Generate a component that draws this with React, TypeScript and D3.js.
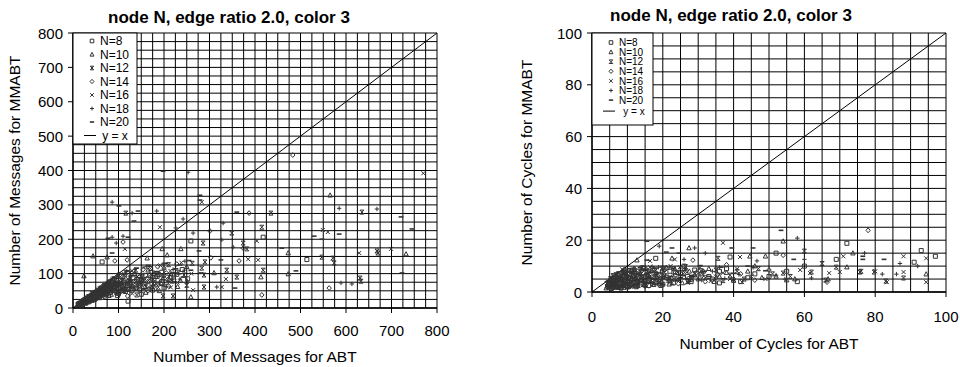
import React from "react";
import * as d3 from "d3";

type Pt = [number, number];

const seriesNames = ["N=8", "N=10", "N=12", "N=14", "N=16", "N=18", "N=20"];
const markerKinds = ["square", "triangle", "star", "diamond", "cross", "plus", "dash"];

// messages: [ABT, MMABT]
const msgN8: Pt[] = [
  [12, 11], [15, 13], [18, 17], [20, 15], [24, 22], [27, 20], [30, 28], [33, 25], [36, 30], [40, 37], [44, 33],
  [48, 41], [52, 38], [55, 50], [60, 45], [64, 55], [68, 48], [72, 60], [78, 52], [85, 70], [90, 62], [96, 80],
  [104, 58], [112, 75], [120, 66], [132, 88], [145, 72], [160, 95], [178, 80], [195, 104], [215, 90], [240, 112],
  [100, 42], [130, 52], [20, 9], [28, 14], [35, 18], [42, 22], [50, 28], [58, 30], [65, 38], [74, 40], [82, 45],
  [92, 50], [98, 36], [108, 62], [115, 48], [125, 70], [138, 58], [150, 80], [165, 66], [185, 92], [205, 75],
  [228, 98], [252, 85], [150, 40], [175, 52], [200, 58],
  [121, 20], [64, 134], [259, 195], [418, 206], [514, 141],
];
const msgN10: Pt[] = [
  [10, 10], [14, 12], [17, 16], [21, 18], [25, 24], [29, 23], [32, 31], [35, 27], [39, 35], [43, 40], [46, 34],
  [50, 47], [54, 42], [58, 56], [62, 49], [66, 60], [70, 52], [75, 68], [80, 58], [86, 78], [92, 66], [98, 90],
  [106, 72], [114, 96], [124, 80], [136, 100], [150, 84], [165, 110], [182, 92], [200, 118], [222, 98], [250, 120],
  [18, 10], [26, 15], [34, 20], [40, 26], [47, 24], [56, 33], [63, 30], [71, 42], [79, 36], [88, 52], [96, 44],
  [103, 60], [111, 50], [122, 64], [134, 56], [146, 76], [158, 62], [174, 84], [194, 72], [214, 90], [236, 80],
  [160, 45], [190, 50], [230, 62],
  [24, 93], [44, 151], [75, 148], [163, 145], [196, 172], [207, 154], [237, 172], [174, 61], [259, 32], [310, 102],
  [413, 90], [473, 160], [473, 99], [565, 328], [732, 157],
];
const msgN12: Pt[] = [
  [11, 10], [13, 13], [16, 14], [19, 19], [23, 19], [26, 25], [28, 22], [31, 29], [34, 33], [38, 31], [42, 42],
  [45, 38], [49, 44], [53, 52], [57, 47], [61, 58], [65, 51], [69, 66], [74, 57], [79, 75], [84, 64], [89, 85],
  [95, 70], [101, 96], [108, 80], [116, 104], [126, 88], [138, 110], [152, 90], [170, 115], [188, 97], [210, 126],
  [232, 104], [262, 130], [85, 40], [160, 62], [22, 12], [30, 17], [37, 21], [44, 27], [52, 31], [59, 35],
  [67, 40], [76, 44], [83, 50], [91, 56], [99, 48], [107, 66], [117, 54], [127, 74], [142, 64], [156, 82],
  [176, 70], [196, 88], [218, 78], [244, 96], [140, 38], [185, 56], [250, 66],
  [116, 276], [349, 218], [435, 276], [415, 235], [374, 189], [382, 172], [286, 189], [283, 116], [290, 134],
  [338, 110], [360, 90], [288, 96], [288, 61], [198, 35], [220, 35], [635, 279], [547, 148], [571, 145],
  [574, 131], [631, 87], [633, 78], [668, 166], [670, 160], [418, 110],
];
const msgN14: Pt[] = [
  [12, 12], [15, 14], [18, 15], [22, 21], [25, 20], [28, 27], [31, 26], [34, 32], [37, 29], [41, 39], [45, 36],
  [49, 46], [53, 44], [57, 52], [60, 48], [64, 62], [69, 55], [73, 70], [77, 61], [82, 79], [88, 68], [94, 88],
  [100, 74], [110, 92], [118, 78], [128, 102], [140, 86], [154, 112], [168, 96], [186, 120], [205, 102], [228, 128],
  [70, 34], [140, 58], [19, 11], [27, 16], [33, 22], [39, 24], [48, 30], [55, 34], [62, 37], [68, 44], [75, 47],
  [84, 54], [93, 60], [102, 52], [113, 68], [123, 58], [133, 76], [147, 66], [162, 86], [180, 74], [200, 94],
  [222, 82], [120, 35], [165, 50], [210, 64],
  [92, 137], [110, 192], [119, 140], [301, 224], [387, 276], [374, 174], [365, 137], [415, 38], [483, 445],
  [563, 58], [303, 146],
];
const msgN16: Pt[] = [
  [10, 9], [13, 12], [16, 15], [20, 18], [23, 22], [26, 21], [30, 29], [33, 28], [36, 34], [40, 33], [44, 43],
  [47, 39], [51, 48], [55, 46], [59, 57], [63, 50], [67, 64], [72, 58], [76, 73], [81, 62], [87, 83], [93, 72],
  [99, 94], [105, 76], [112, 100], [121, 84], [130, 108], [142, 92], [156, 118], [172, 100], [192, 124], [214, 108],
  [238, 132], [110, 48], [190, 70], [17, 9], [25, 13], [32, 19], [38, 23], [45, 27], [53, 32], [61, 36], [69, 41],
  [78, 46], [86, 50], [95, 58], [103, 46], [114, 62], [124, 52], [136, 72], [150, 60], [166, 80], [184, 68],
  [206, 86], [230, 74], [130, 42], [170, 58], [215, 60], [260, 100],
  [191, 235], [283, 308], [404, 195], [407, 140], [385, 142], [327, 61], [264, 52], [336, 84], [114, 172],
  [549, 227], [560, 221], [629, 160], [699, 172], [770, 392],
];
const msgN18: Pt[] = [
  [11, 11], [14, 13], [17, 17], [21, 19], [24, 23], [27, 24], [31, 30], [34, 29], [38, 36], [41, 34], [45, 44],
  [48, 40], [52, 50], [56, 49], [60, 58], [64, 53], [68, 66], [73, 60], [78, 76], [83, 66], [88, 86], [94, 76],
  [102, 98], [108, 82], [118, 106], [126, 90], [136, 112], [148, 96], [162, 120], [178, 104], [198, 128],
  [220, 112], [246, 136], [95, 44], [175, 66], [21, 13], [29, 18], [36, 22], [43, 28], [51, 33], [57, 38],
  [64, 42], [72, 46], [80, 52], [89, 57], [97, 64], [105, 54], [116, 70], [128, 60], [139, 82], [152, 70],
  [170, 88], [190, 76], [212, 94], [235, 84], [145, 50], [205, 62], [245, 110],
  [86, 308], [130, 276], [184, 282], [226, 233], [242, 259], [330, 247], [264, 218], [327, 198], [352, 177],
  [316, 61], [251, 78], [86, 206], [95, 189], [110, 209], [253, 395], [585, 290], [668, 288], [589, 73], [613, 70],
];
const msgN20: Pt[] = [
  [12, 11], [15, 15], [18, 16], [22, 20], [26, 25], [29, 26], [32, 30], [35, 31], [39, 38], [43, 37], [46, 45],
  [50, 43], [54, 53], [58, 51], [62, 60], [67, 56], [71, 68], [76, 64], [81, 80], [86, 70], [91, 88], [97, 78],
  [104, 100], [110, 86], [120, 108], [130, 94], [140, 116], [152, 100], [166, 124], [184, 106], [204, 130],
  [226, 114], [255, 138], [120, 50], [210, 78], [23, 14], [31, 19], [38, 25], [46, 29], [53, 35], [60, 40],
  [68, 45], [77, 50], [85, 56], [94, 62], [101, 70], [112, 58], [122, 76], [132, 64], [144, 88], [158, 74],
  [176, 94], [196, 82], [218, 102], [242, 90], [155, 55], [195, 66], [235, 125],
  [101, 297], [143, 282], [134, 253], [279, 328], [279, 314], [198, 398], [360, 279], [459, 174], [490, 108],
  [356, 58], [281, 102], [259, 110], [325, 140], [277, 166], [77, 203], [121, 206], [86, 160], [721, 265],
  [745, 230], [530, 209], [547, 200], [585, 215], [723, 102],
];

// cycles: [ABT, MMABT]
const cycN8: Pt[] = [
  [4.5, 2], [5, 3], [5.5, 1.5], [6, 4], [6.5, 2.5], [7, 5], [7.5, 2], [8, 3.5], [8.5, 6], [9, 1.8], [9.5, 4],
  [10, 2.5], [10.5, 7], [11, 3], [12, 5], [12.5, 2], [13, 8], [14, 3.5], [15, 6], [16, 2.5], [17, 9], [18, 4],
  [19, 6.5], [20, 3], [22, 8], [24, 5], [26, 10], [28, 4], [31, 7], [34, 5], [38, 9], [42, 4], [46, 7], [50, 6],
  [5.2, 4.5], [6.2, 5.5], [7.3, 6.5], [8.2, 1.5], [9.2, 7.5], [10.2, 5.5], [11.5, 8.5], [12.8, 3.8], [14.5, 9],
  [16, 4.5], [17.5, 7], [19.5, 2.5], [21, 5.5], [23, 3.5], [25, 7], [27, 6], [29, 8.5], [33, 6], [36, 8],
  [44, 5.5], [55, 8], [58, 4],
  [18, 13], [39, 13.5], [52, 15], [72, 18.8], [69, 12.6], [91, 11.5], [93, 16], [97, 13.8], [36, 3.5], [60, 10],
];
const cycN10: Pt[] = [
  [4, 1.5], [5, 2.5], [5.8, 3.5], [6.3, 1.8], [7.2, 4.5], [7.8, 2.8], [8.4, 5.5], [9.1, 3.2], [9.7, 7], [10.3, 2],
  [11.2, 4.8], [11.8, 6.2], [12.6, 3], [13.5, 7.5], [14.4, 4.2], [15.3, 9], [16.2, 5], [17.4, 2.8], [18.5, 6.8],
  [19.6, 4], [21, 9.5], [22.5, 5.5], [24, 7.5], [25.5, 3.5], [27.5, 8], [30, 5], [33, 9], [36, 6], [40, 4.5],
  [44, 8], [48, 5.5], [4.6, 3.5], [5.5, 5], [6.7, 6], [7.5, 1.7], [8.8, 8], [9.6, 2.4], [10.8, 6.6], [12, 8.6],
  [13, 2.4], [14.8, 6], [16.8, 8.2], [18, 3.6], [20.2, 6], [21.8, 3], [23.4, 8.8], [26, 5.8], [29, 6.5],
  [31.5, 8], [34.5, 4], [38, 7.5], [46, 10], [52, 6],
  [12.7, 12.3], [22.6, 13], [27.4, 17], [44.6, 13.8], [49, 13.8], [54, 19.6], [73.7, 15], [57.3, 5], [66.7, 5],
  [94.4, 6.9], [55, 4.6], [72, 9.6],
];
const cycN12: Pt[] = [
  [4.8, 2.2], [5.4, 1.4], [6, 3], [6.8, 4.2], [7.4, 1.9], [8, 5], [8.7, 2.6], [9.3, 6.3], [9.9, 3.8], [10.6, 5.2],
  [11.4, 2.4], [12.2, 7.2], [13, 4], [13.8, 5.8], [14.7, 3], [15.6, 8], [16.6, 4.6], [17.8, 6], [19, 3.4],
  [20.3, 7.8], [21.8, 5], [23.2, 9], [25, 6], [27, 4], [29, 7], [32, 5.5], [35, 8.5], [39, 6.5], [43, 5], [47, 9],
  [51, 7], [4.3, 3.2], [5.6, 4.8], [6.4, 2], [7.2, 6.8], [8.4, 3.6], [9, 8], [10.2, 2.2], [11.1, 7.8],
  [12.6, 5.4], [14.2, 9.4], [15.2, 2.6], [16.2, 6.8], [18.4, 5], [19.8, 9.2], [22.6, 3.6], [24.2, 7.6],
  [26.4, 9.8], [28.2, 5], [30.8, 8.2], [37, 4.4], [41, 8], [56, 6],
  [35.6, 13], [60, 15.8], [65, 11], [69, 9.6], [62, 7.7], [54, 7.3], [76, 8], [79.7, 7.7], [75.7, 7.7], [83, 4.2],
  [88, 5.4], [66, 4.6],
];
const cycN14: Pt[] = [
  [5.2, 2.8], [5.9, 1.6], [6.6, 3.6], [7.1, 2.2], [7.7, 4.8], [8.3, 1.7], [8.9, 3], [9.5, 5.6], [10.1, 4.2],
  [10.9, 2.6], [11.6, 6.5], [12.4, 3.6], [13.2, 5], [14.1, 8.2], [15, 4], [15.9, 6.2], [17, 3.2], [18.2, 7.2],
  [19.4, 5.2], [20.6, 8.6], [22, 4.4], [23.6, 6.6], [25.2, 9.2], [27.2, 5.2], [29.5, 7.5], [32, 4], [35.5, 6.8],
  [38, 10.5], [42, 7], [46, 4.6], [4.4, 1.8], [5.5, 3.8], [6.3, 5.8], [7.4, 3.2], [8, 6.4], [8.6, 4], [9.2, 8.6],
  [10.4, 1.9], [11.2, 4.8], [12, 9], [12.8, 2.2], [13.6, 6.8], [14.6, 3], [16.4, 4.8], [17.6, 8.8], [19, 2.6],
  [21.2, 6.2], [24.4, 3.2], [26.4, 8], [31, 6.2], [40, 5], [50, 8.5],
  [28.5, 12.3], [54, 14.2], [78, 23.8], [66.4, 3.8],
];
const cycN16: Pt[] = [
  [4.2, 2.4], [4.9, 1.7], [5.6, 4], [6.4, 2.6], [7, 3.2], [7.6, 5.8], [8.2, 2.3], [8.8, 4.4], [9.4, 6.8], [10, 3.4],
  [10.8, 5], [11.5, 2.8], [12.3, 6], [13.1, 4.6], [13.9, 9.2], [14.9, 3.6], [15.8, 7], [16.9, 5.4], [18, 8.4],
  [19.2, 3.8], [20.5, 6.4], [22.2, 10], [23.8, 4.8], [25.8, 7], [28, 5.8], [30.5, 9.4], [33.5, 4.2], [37, 7.4],
  [41, 9], [45, 6], [49, 5], [4.5, 3.8], [5.2, 5.4], [6, 1.5], [6.7, 7], [7.3, 4.6], [8.5, 8.8], [9.1, 1.8],
  [9.7, 5.2], [10.4, 8], [11.2, 4], [12, 2], [12.7, 7.6], [14.4, 5.6], [15.4, 2.2], [16.4, 9.6], [17.4, 3],
  [19.8, 8.8], [21.4, 5], [24.8, 9.6], [27, 3.6], [35, 6], [39, 5],
  [37, 19], [41.8, 13.5], [16.4, 12], [23.4, 12.6], [88, 13.8], [94.4, 13], [71, 13.8], [70, 7.7], [67, 7.3],
  [80, 8], [88, 7.7], [94.4, 3.8], [83.3, 3.8], [42.4, 3.8], [58.8, 8.5], [61.6, 7.3],
];
const cycN18: Pt[] = [
  [4.6, 1.9], [5.3, 3.3], [6.1, 2.4], [6.7, 5], [7.3, 3.6], [7.9, 1.6], [8.6, 4.2], [9.2, 2.9], [9.8, 5.4],
  [10.5, 3.7], [11.3, 7.6], [12, 4.4], [12.8, 2.6], [13.6, 6.4], [14.5, 5], [15.5, 3.4], [16.4, 7.8], [17.6, 4.8],
  [18.8, 9.6], [20, 5.8], [21.5, 3.8], [23, 7], [24.6, 5], [26.5, 8.8], [28.6, 6], [31, 4.6], [34, 8], [37.5, 5.2],
  [41.5, 6.8], [45.5, 9.5], [52, 6.5], [4.2, 4], [4.9, 2.8], [5.7, 6], [6.4, 4.4], [7, 7.2], [7.6, 2.2],
  [8.3, 5.6], [8.9, 7.4], [9.5, 1.7], [10.2, 6], [11, 2.4], [11.7, 9], [12.5, 5.8], [13.3, 3.6], [14.1, 8.6],
  [15, 1.9], [16, 5.8], [17, 9.8], [19.4, 7.6], [22, 9.6], [27.6, 4], [36, 9.5],
  [19, 17.7], [29, 17], [32, 15], [26, 12.6], [46.6, 12], [58, 20.8], [77, 15], [60, 12.6], [87, 11], [92, 10],
  [82, 6.9], [86, 6.9], [62, 5.4], [40, 3.8], [54.5, 5],
];
const cycN20: Pt[] = [
  [4.4, 2.6], [5.1, 1.8], [5.7, 4.6], [6.2, 3.2], [6.9, 2], [7.5, 3.9], [8.1, 6.2], [8.7, 2.9], [9.3, 4.7],
  [10, 7.6], [10.7, 3.5], [11.5, 5.4], [12.3, 2.8], [13.1, 6.9], [14, 4.1], [14.9, 8.8], [15.9, 5.6], [17, 3.3],
  [18.1, 7.4], [19.4, 5], [20.8, 9.8], [22.4, 6], [24.2, 4.4], [26, 8.2], [28.2, 6.4], [30.6, 10.2], [33.2, 6],
  [36.5, 9.6], [40, 7.2], [44, 10], [49, 8.2], [4.8, 3.6], [5.4, 5.6], [6, 7], [6.6, 1.6], [7.2, 5.6], [7.8, 7.8],
  [8.4, 1.9], [9, 3.8], [9.6, 6.4], [10.4, 9], [11.1, 2.2], [11.9, 7], [12.7, 4.4], [13.6, 9.4], [14.5, 2.2],
  [15.4, 7], [16.5, 3.6], [17.8, 9.2], [20, 2.8], [23, 9], [27, 5], [31.8, 8],
  [15.5, 19.6], [22.6, 17], [21, 15.4], [24.6, 15], [39.5, 17], [45.5, 17], [53.4, 23.8], [15.5, 12.3], [57, 12.6],
  [76.5, 12.6], [82.5, 12.6], [76.5, 13.8],
];

const msgSeries = [msgN8, msgN10, msgN12, msgN14, msgN16, msgN18, msgN20];
const cycSeries = [cycN8, cycN10, cycN12, cycN14, cycN16, cycN18, cycN20];

const msgTicks = [0, 100, 200, 300, 400, 500, 600, 700, 800];
const cycTicks = [0, 20, 40, 60, 80, 100];

const FONT = "'Liberation Sans', Arial, sans-serif";
const INK = "#333";

function markerPath(kind: string, s: number) {
  switch (kind) {
    case "square":
      return `M${-s},${-s}H${s}V${s}H${-s}Z`;
    case "triangle":
      return `M0,${-s * 1.2}L${s * 1.1},${s * 0.9}H${-s * 1.1}Z`;
    case "star":
      return `M${-s},${-s}L${s},${s}M${s},${-s}L${-s},${s}M${-s},${-s}H${s}M${-s},${s}H${s}`;
    case "diamond":
      return `M0,${-s * 1.2}L${s * 1.1},0L0,${s * 1.2}L${-s * 1.1},0Z`;
    case "cross":
      return `M${-s},${-s}L${s},${s}M${s},${-s}L${-s},${s}`;
    case "plus":
      return `M${-s * 1.1},0H${s * 1.1}M0,${-s * 1.1}V${s * 1.1}`;
    default:
      return `M${-s * 1.2},-0.8H${s * 1.2}V0.8H${-s * 1.2}Z`;
  }
}

function Marker({ kind, x, y, s }: { kind: string; x: number; y: number; s: number }) {
  const filled = kind === "dash";
  return (
    <path
      d={markerPath(kind, s)}
      transform={`translate(${x},${y})`}
      fill={filled ? INK : "none"}
      stroke={filled ? "none" : INK}
      strokeWidth={1}
    />
  );
}

interface PanelProps {
  xr: [number, number];
  yr: [number, number];
  max: number;
  grid: number;
  ticks: number[];
  series: Pt[][];
  title: string;
  titleX: number;
  titleY: number;
  xLabel: string;
  xLabelY: number;
  xTickY: number;
  yLabel: string;
  yLabelX: number;
  legend: { x: number; y: number; w: number; h: number; first: number; row: number; lastGap: number; font: number };
}

function Panel(p: PanelProps) {
  const x = d3.scaleLinear().domain([0, p.max]).range(p.xr);
  const y = d3.scaleLinear().domain([0, p.max]).range(p.yr);
  const gridVals = d3.range(0, p.max + p.grid / 2, p.grid);
  const lg = p.legend;
  const lineRowY = lg.y + lg.first + 6 * lg.row + lg.lastGap;
  return (
    <g fontFamily={FONT}>
      <text x={p.titleX} y={p.titleY} textAnchor="middle" fontSize={17} fontWeight="bold">
        {p.title}
      </text>
      {gridVals.map((v) => (
        <line key={"gx" + v} x1={x(v)} x2={x(v)} y1={y(0)} y2={y(p.max)} stroke="#000" strokeWidth={1} />
      ))}
      {gridVals.map((v) => (
        <line key={"gy" + v} x1={x(0)} x2={x(p.max)} y1={y(v)} y2={y(v)} stroke="#000" strokeWidth={1} />
      ))}
      <line x1={x(0)} x2={x(p.max)} y1={y(0)} y2={y(0)} stroke="#000" strokeWidth={1.3} />
      <line x1={x(0)} x2={x(0)} y1={y(0)} y2={y(p.max)} stroke="#000" strokeWidth={1.3} />
      {p.ticks.map((t) => (
        <g key={"tx" + t}>
          <line x1={x(t)} x2={x(t)} y1={y(0)} y2={y(0) + 5} stroke="#000" />
          <text x={x(t)} y={p.xTickY} textAnchor="middle" fontSize={15}>
            {t}
          </text>
        </g>
      ))}
      {p.ticks.map((t) => (
        <g key={"ty" + t}>
          <line x1={x(0) - 5} x2={x(0)} y1={y(t)} y2={y(t)} stroke="#000" />
          <text x={x(0) - 10} y={y(t) + 5.5} textAnchor="end" fontSize={15}>
            {t}
          </text>
        </g>
      ))}
      <line x1={x(0)} y1={y(0)} x2={x(p.max)} y2={y(p.max)} stroke="#000" strokeWidth={1} />
      {p.series.map((pts, i) =>
        pts.map((d, j) => <Marker key={i + "-" + j} kind={markerKinds[i]} x={x(d[0])} y={y(d[1])} s={2} />)
      )}
      <text x={(p.xr[0] + p.xr[1]) / 2} y={p.xLabelY} textAnchor="middle" fontSize={15.5}>
        {p.xLabel}
      </text>
      <text
        transform={`translate(${p.yLabelX},${(p.yr[0] + p.yr[1]) / 2}) rotate(-90)`}
        textAnchor="middle"
        fontSize={15.5}
      >
        {p.yLabel}
      </text>
      <rect x={lg.x} y={lg.y} width={lg.w} height={lg.h} fill="#fff" stroke="#000" strokeWidth={1} />
      {seriesNames.map((n, i) => {
        const cy = lg.y + lg.first + i * lg.row;
        return (
          <g key={n}>
            <Marker kind={markerKinds[i]} x={lg.x + 19} y={cy} s={1.8} />
            <text x={lg.x + 27} y={cy + lg.font * 0.36} fontSize={lg.font}>
              {n}
            </text>
          </g>
        );
      })}
      <line x1={lg.x + 11} x2={lg.x + 23} y1={lineRowY} y2={lineRowY} stroke="#000" />
      <text x={lg.x + 42} y={lineRowY + lg.font * 0.36} fontSize={lg.font} textAnchor="middle">
        y = x
      </text>
    </g>
  );
}

export default function App() {
  return (
    <svg width={960} height={367} style={{ position: "absolute", left: 0, top: 0, background: "#fff" }}>
      <rect width={960} height={367} fill="#fff" />
      <Panel
        xr={[73, 437]}
        yr={[308, 33]}
        max={800}
        grid={25}
        ticks={msgTicks}
        series={msgSeries}
        title="node N, edge ratio 2.0, color 3"
        titleX={229}
        titleY={23}
        xLabel="Number of Messages for ABT"
        xLabelY={362}
        xTickY={336}
        yLabel="Number of Messages for MMABT"
        yLabelX={20}
        legend={{ x: 73, y: 33, w: 64, h: 111, first: 8, row: 13.5, lastGap: 13.5, font: 12 }}
      />
      <Panel
        xr={[592, 946]}
        yr={[292, 33]}
        max={100}
        grid={5}
        ticks={cycTicks}
        series={cycSeries}
        title="node N, edge ratio 2.0, color 3"
        titleX={731}
        titleY={21}
        xLabel="Number of Cycles for ABT"
        xLabelY={349}
        xTickY={322}
        yLabel="Number of Cycles for MMABT"
        yLabelX={532}
        legend={{ x: 592, y: 33, w: 61, h: 92, first: 9.5, row: 9.6, lastGap: 11, font: 10 }}
      />
    </svg>
  );
}
